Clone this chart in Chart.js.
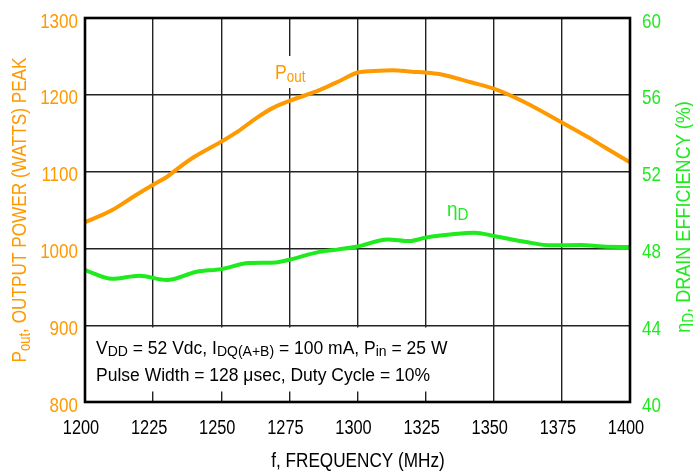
<!DOCTYPE html>
<html lang="en">
<head>
<meta charset="UTF-8">
<title>Output Power and Drain Efficiency vs Frequency</title>
<style>
  html, body { margin: 0; padding: 0; background: #fff; }
  #wrap { width: 693px; height: 472px; }
</style>
</head>
<body>
<div id="wrap"><canvas id="chart" width="693" height="472"></canvas></div>
<script src="https://cdn.jsdelivr.net/npm/chart.js"></script>
<script>
// values
const freqPout = [1200, 1210, 1218, 1225, 1230, 1234, 1240, 1250, 1256, 1263, 1269, 1275, 1286, 1294, 1300, 1306, 1313, 1320, 1325, 1330, 1342, 1350, 1361, 1375, 1385, 1391, 1400];
const pout     = [1034, 1050, 1068, 1083, 1093, 1104, 1119, 1139, 1152, 1170, 1183, 1192, 1206, 1219, 1229, 1231, 1232, 1230, 1229, 1227, 1216, 1208, 1191, 1164, 1144, 1131, 1112];

const freqEta = [1200, 1210, 1220, 1230, 1241, 1250, 1260, 1270, 1275, 1286, 1293, 1300, 1311, 1319, 1325, 1334, 1343, 1350, 1362, 1371, 1382, 1390, 1400];
const eta     = [46.87, 46.42, 46.58, 46.35, 46.78, 46.92, 47.24, 47.27, 47.41, 47.82, 47.95, 48.1, 48.47, 48.38, 48.56, 48.72, 48.82, 48.65, 48.33, 48.16, 48.18, 48.1, 48.07];

const xTicks = [1200, 1225, 1250, 1275, 1300, 1325, 1350, 1375, 1400];
const poutTicks = [800, 900, 1000, 1100, 1200, 1300];
const etaTicks = [40, 44, 48, 52, 56, 60];

const ORANGE = '#ff9900';
const GREEN = '#1eea1e';
const FONT = "'Liberation Sans', Arial, sans-serif";

// draw text made of runs [text, isSub], squeezed horizontally by sx
function drawRich(ctx, runs, x, y, size, opts) {
  opts = opts || {};
  const sx = opts.sx || 1;
  const subScale = opts.subScale || 0.76;
  const subDrop = opts.subDrop != null ? opts.subDrop : size * 0.2;
  let w = 0;
  runs.forEach(r => {
    ctx.font = (r[1] ? size * subScale : size) + 'px ' + FONT;
    w += ctx.measureText(r[0]).width;
  });
  let start = 0;
  if (opts.align === 'center') start = -w / 2;
  if (opts.align === 'right') start = -w;
  ctx.save();
  ctx.translate(x, y);
  ctx.scale(sx, 1);
  ctx.textAlign = 'left';
  let cx = start;
  runs.forEach(r => {
    ctx.font = (r[1] ? size * subScale : size) + 'px ' + FONT;
    ctx.fillText(r[0], cx, r[1] ? subDrop : 0);
    cx += ctx.measureText(r[0]).width;
  });
  ctx.restore();
}

const decor = {
  id: 'decor',
  beforeDatasetsDraw(chart) {
    const ctx = chart.ctx;
    const a = chart.chartArea;
    ctx.save();
    ctx.fillStyle = '#fff';
    ctx.fillRect(268, 56, 44, 32);        // behind Pout label
    ctx.fillRect(a.left, 327.5, 385, 64); // behind the conditions note
    ctx.restore();
  },
  afterDatasetsDraw(chart) {
    const ctx = chart.ctx;
    const a = chart.chartArea;
    const sX = chart.scales.x, sY = chart.scales.y, sY1 = chart.scales.y1;
    ctx.save();
    ctx.strokeStyle = '#000';
    ctx.lineWidth = 2.6;
    ctx.strokeRect(a.left, a.top, a.right - a.left, a.bottom - a.top);
    ctx.textBaseline = 'alphabetic';

    // tick labels, placed by the chart's scales
    ctx.fillStyle = '#000';
    sX.ticks.forEach(t => {
      drawRich(ctx, [[String(t.value), false]], sX.getPixelForValue(t.value) - 4, 434, 19.5, { sx: 0.84, align: 'center' });
    });
    ctx.fillStyle = ORANGE;
    sY.ticks.forEach(t => {
      drawRich(ctx, [[String(t.value), false]], 78, sY.getPixelForValue(t.value) + 9.5, 21, { sx: 0.81, align: 'right' });
    });
    ctx.fillStyle = GREEN;
    sY1.ticks.forEach(t => {
      drawRich(ctx, [[String(t.value), false]], 642, sY1.getPixelForValue(t.value) + 9.5, 21, { sx: 0.81 });
    });

    // series labels
    ctx.fillStyle = ORANGE;
    drawRich(ctx, [['P', false], ['out', true]], 275, 79, 21, { sx: 0.84, subDrop: 3 });
    ctx.fillStyle = GREEN;
    drawRich(ctx, [['η', false], ['D', true]], 447, 216, 20, { sx: 0.95, subScale: 0.8, subDrop: 4 });

    // conditions note
    ctx.fillStyle = '#000';
    drawRich(ctx, [['V', false], ['DD', true], [' = 52 Vdc, I', false], ['DQ(A+B)', true],
      [' = 100 mA, P', false], ['in', true], [' = 25 W', false]], 96, 354, 17.5, { subScale: 0.8, subDrop: 2 });
    drawRich(ctx, [['Pulse Width = 128 μsec, Duty Cycle = 10%', false]], 96, 381, 17.5);

    // axis titles
    drawRich(ctx, [['f, FREQUENCY (MHz)', false]], 358, 467, 19.5, { sx: 0.88, align: 'center' });

    ctx.save();
    ctx.translate(26, 210);
    ctx.rotate(-Math.PI / 2);
    ctx.fillStyle = ORANGE;
    drawRich(ctx, [['P', false], ['out', true], [', OUTPUT POWER (WATTS) PEAK', false]], 0, 0, 21, { sx: 0.82, align: 'center', subDrop: 4 });
    ctx.restore();

    ctx.save();
    ctx.translate(690, 217);
    ctx.rotate(-Math.PI / 2);
    ctx.fillStyle = GREEN;
    drawRich(ctx, [['η', false], ['D', true], [', DRAIN EFFICIENCY (%)', false]], 0, 0, 21, { sx: 0.86, align: 'center', subDrop: 4 });
    ctx.restore();

    ctx.restore();
  }
};

const ctx = document.getElementById('chart').getContext('2d');
new Chart(ctx, {
  type: 'line',
  data: {
    datasets: [{
      label: 'Pout',
      data: freqPout.map((f, i) => ({ x: f, y: pout[i] })),
      borderColor: ORANGE,
      borderWidth: 4,
      pointRadius: 0,
      cubicInterpolationMode: 'monotone',
      yAxisID: 'y',
      fill: false
    }, {
      label: 'ηD',
      data: freqEta.map((f, i) => ({ x: f, y: eta[i] })),
      borderColor: GREEN,
      borderWidth: 4,
      pointRadius: 0,
      cubicInterpolationMode: 'monotone',
      yAxisID: 'y1',
      fill: false
    }]
  },
  options: {
    responsive: false,
    animation: false,
    events: [],
    layout: { padding: { top: 18, left: 0, right: 0, bottom: 0 } },
    plugins: { legend: { display: false }, tooltip: { enabled: false } },
    scales: {
      x: {
        type: 'linear',
        min: 1200, max: 1400,
        afterBuildTicks: s => { s.ticks = xTicks.map(v => ({ value: v })); },
        afterFit: s => { s.height = 70; },
        grid: { color: '#222', lineWidth: 1.4, drawTicks: false },
        border: { display: false },
        ticks: { display: false }
      },
      y: {
        position: 'left',
        min: 800, max: 1300,
        afterBuildTicks: s => { s.ticks = poutTicks.map(v => ({ value: v })); },
        afterFit: s => { s.width = 85; },
        grid: { color: '#222', lineWidth: 1.4, drawTicks: false },
        border: { display: false },
        ticks: { display: false }
      },
      y1: {
        position: 'right',
        min: 40, max: 60,
        afterBuildTicks: s => { s.ticks = etaTicks.map(v => ({ value: v })); },
        afterFit: s => { s.width = 63; },
        grid: { display: false, drawTicks: false },
        border: { display: false },
        ticks: { display: false }
      }
    }
  },
  plugins: [decor]
});
</script>
</body>
</html>
